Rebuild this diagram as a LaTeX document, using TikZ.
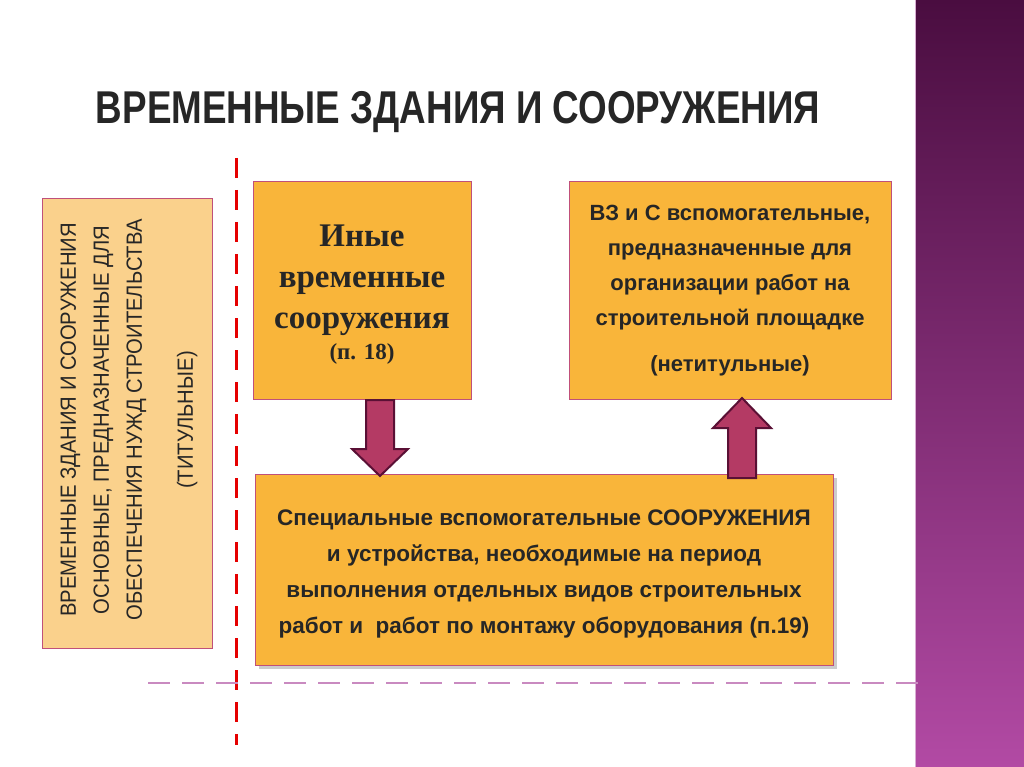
\documentclass[tikz,border=0pt]{standalone}
\usepackage{fontspec}
\setmainfont{Liberation Sans}
\newfontfamily\serifb{Liberation Serif}
\usetikzlibrary{shadows}
\definecolor{boxor}{HTML}{F9B53A}
\definecolor{boxlight}{HTML}{FAD18C}
\definecolor{bord}{HTML}{C0507A}
\definecolor{arrf}{HTML}{B43A64}
\definecolor{arrd}{HTML}{5A1035}
\definecolor{purtop}{HTML}{4A0D40}
\definecolor{purbot}{HTML}{B24AA4}
\definecolor{dashp}{HTML}{C98AC0}
\tikzset{
  obox/.style={draw=bord, fill=boxor, line width=0.6pt},
  fatarrow/.style={fill=arrf, draw=arrd, line width=2pt, line join=miter},
  body/.style={align=center, text=black!85}
}
\begin{document}
\begin{tikzpicture}[x=1pt,y=-1pt]
\useasboundingbox (0,0) rectangle (1024,767);
\fill[white] (0,0) rectangle (1024,767);
\shade[top color=purtop, bottom color=purbot] (915,0) rectangle (1024,767);
\draw[dashp!70!white, line width=1pt] (915,0) -- (915,767);
% title
\node[font=\bfseries\fontsize{46}{50}\selectfont, text=black!85, xscale=0.80] (title) at (458,112) {ВРЕМЕННЫЕ ЗДАНИЯ И СООРУЖЕНИЯ};
% left box
\node[draw=bord, fill=boxlight, line width=0.6pt, minimum width=170, minimum height=450, anchor=north west] (left) at (42,198) {};
\node[rotate=90, font=\fontsize{22}{33}\selectfont, align=center, text=black!85, xscale=0.92] (lefttext) at (129,420) {ВРЕМЕННЫЕ ЗДАНИЯ И СООРУЖЕНИЯ\\ОСНОВНЫЕ, ПРЕДНАЗНАЧЕННЫЕ ДЛЯ\\ОБЕСПЕЧЕНИЯ НУЖД СТРОИТЕЛЬСТВА\\[18pt](ТИТУЛЬНЫЕ)};
% red dashed
\coordinate (rt) at (236,158); \coordinate (rb) at (236,745);
\draw[red!90!black, line width=3pt, dash pattern=on 20pt off 12pt] (rt) -- (rb);
% purple dashed
\coordinate (pl) at (148,683); \coordinate (pr) at (920,683);
\draw[dashp, line width=2.5pt, dash pattern=on 22pt off 12pt] (pl) -- (pr);
% boxes
\node[obox, minimum width=218, minimum height=218, anchor=north west] (b2) at (253,181) {};
\node[font=\serifb\bfseries\fontsize{33}{41}\selectfont, align=center, text=black!85] at (362,280) {Иные\\временные\\сооружения};
\node[font=\serifb\bfseries\fontsize{23}{26}\selectfont, text=black!85] at (362,354) {(п. 18)};
\node[obox, minimum width=322, minimum height=218, anchor=north west] (b3) at (569,181) {};
\node[body, font=\bfseries\fontsize{22}{35}\selectfont] at (730,268) {ВЗ и С вспомогательные,\\предназначенные для\\организации работ на\\строительной площадке};
\node[body, font=\bfseries\fontsize{22}{25}\selectfont] at (730,366) {(нетитульные)};
\node[obox, drop shadow={shadow xshift=4pt, shadow yshift=-4pt, opacity=0.4}, minimum width=578, minimum height=191, anchor=north west] (b4) at (255,474) {};
\node[body, font=\bfseries\fontsize{22.5}{36}\selectfont] at (544,574) {Специальные вспомогательные СООРУЖЕНИЯ\\и устройства, необходимые на период\\выполнения отдельных видов строительных\\работ и\ \ работ по монтажу оборудования (п.19)};
% arrows
\draw[fatarrow] (366,400) -- (394,400) -- (394,449) -- (408,449) -- (380,476) -- (352,449) -- (366,449) -- cycle;
\draw[fatarrow] (728,478) -- (756,478) -- (756,428) -- (771,428) -- (742,398) -- (713,428) -- (728,428) -- cycle;
\end{tikzpicture}
\end{document}
